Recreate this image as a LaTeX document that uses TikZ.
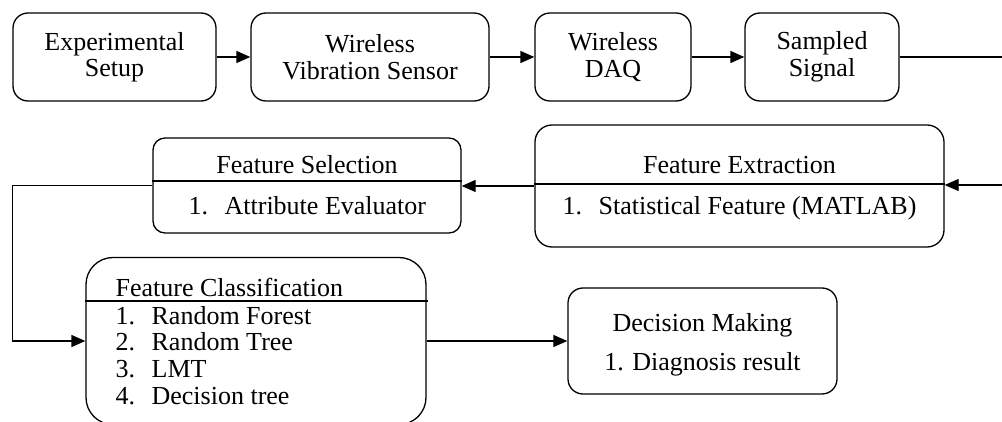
\documentclass[tikz,border=0pt]{standalone}
\usepackage{fontspec}
\setmainfont{Liberation Serif}
\usetikzlibrary{arrows.meta}
\tikzset{
  khung/.style={draw, rounded corners=15pt, align=center, inner sep=0pt},
  chu/.style={inner sep=0pt, anchor=base}
}
\newcommand{\muc}[1]{\makebox[36pt][l]{#1}}
\begin{document}
\begin{tikzpicture}[x=1pt,y=-1pt,>={Triangle[length=14pt,width=12pt]},line width=1.3pt,font=\rmfamily\fontsize{26}{26.5}\selectfont]
\useasboundingbox (0,0) rectangle (1002,422);
%Row 1
\node[khung, minimum width=203pt, minimum height=88pt] (setup) at (114.5,57) {Experimental\\Setup};
\node[khung, minimum width=238pt, minimum height=88pt] (sensor) at (370,57) {Wireless\\Vibration Sensor};
\node[khung, minimum width=156pt, minimum height=88pt] (daq) at (613,57) {Wireless\\DAQ};
\node[khung, minimum width=154pt, minimum height=88pt] (signal) at (822,57) {Sampled\\Signal};
%Arrows 1,2,3
\draw [->] (setup) -- (sensor);
\draw [->] (sensor) -- (daq);
\draw [->] (daq) -- (signal);
\coordinate (out) at (1002,57);
\coordinate (in) at (1002,185);
\draw (signal) -- (out);
%Feature Extraction
\node[khung, rounded corners=17pt, minimum width=409pt, minimum height=122pt] (extract) at (739.5,186) {};
\draw (extract.west |- 0,184) -- (extract.east |- 0,184);
\node[chu] (extract-t) at (739.5,174) {Feature Extraction};
\node[chu, anchor=base west] (extract-1) at (562,215) {\muc{1.}Statistical Feature (MATLAB)};
\draw [->] (in) -- (in -| extract.east);
%Feature Selection
\node[khung, rounded corners=12pt, minimum width=308pt, minimum height=95pt] (select) at (307,185.5) {};
\draw (select.west |- 0,181) -- (select.east |- 0,181);
\node[chu] (select-t) at (307,174) {Feature Selection};
\node[chu, anchor=base west] (select-1) at (188,215) {\muc{1.}Attribute Evaluator};
\draw [->] (extract.west) -- (extract.west -| select.east);
%Feature Classification
\node[khung, rounded corners=27pt, minimum width=340pt, minimum height=167pt] (classify) at (256,341) {};
\draw (classify.west |- 0,301) -- (428,301);
\node[chu, anchor=base west] (classify-t) at (115,297) {Feature Classification};
\node[chu, anchor=base west] (classify-1) at (115,324) {\muc{1.}Random Forest};
\node[chu, anchor=base west] (classify-2) at (115,350.7) {\muc{2.}Random Tree};
\node[chu, anchor=base west] (classify-3) at (115,377.3) {\muc{3.}LMT};
\node[chu, anchor=base west] (classify-4) at (115,404) {\muc{4.}Decision tree};
\draw [->] (select.west) -- ++(-140,0) |- (classify.west);
%Decision Making
\node[khung, minimum width=269pt, minimum height=106pt] (decide) at (702.5,341) {};
\node[chu] (decide-t) at (702.5,331.7) {Decision Making};
\node[chu] (decide-1) at (702.5,370) {1. Diagnosis result};
\draw [->] (classify.east) -- (decide.west);
\end{tikzpicture}
\end{document}
